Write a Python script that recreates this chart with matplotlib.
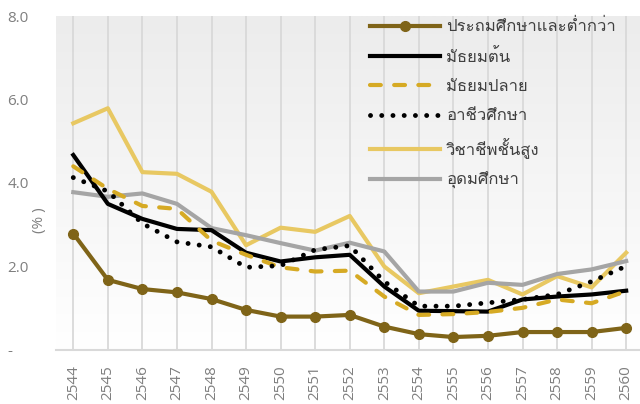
import matplotlib
matplotlib.use('Agg')
import matplotlib.pyplot as plt
import numpy as np
from matplotlib import font_manager
from matplotlib.ft2font import FT2Font
from matplotlib.ticker import FuncFormatter

years = ['2544', '2545', '2546', '2547', '2548', '2549', '2550', '2551', '2552',
         '2553', '2554', '2555', '2556', '2557', '2558', '2559', '2560']

primary = [2.79, 1.68, 1.46, 1.38, 1.22, 0.96, 0.80, 0.80, 0.84,
           0.56, 0.38, 0.31, 0.34, 0.43, 0.43, 0.43, 0.53]
lower_sec = [4.67, 3.50, 3.14, 2.90, 2.87, 2.33, 2.12, 2.22, 2.28,
             1.52, 0.94, 0.93, 0.92, 1.21, 1.28, 1.33, 1.42]
upper_sec = [4.40, 3.86, 3.45, 3.38, 2.62, 2.28, 1.98, 1.88, 1.90,
             1.28, 0.84, 0.86, 0.91, 1.01, 1.21, 1.12, 1.41]
vocational = [4.13, 3.80, 3.03, 2.59, 2.47, 1.98, 2.02, 2.40, 2.50,
              1.64, 1.05, 1.05, 1.13, 1.21, 1.33, 1.64, 2.01]
high_voc = [5.43, 5.79, 4.26, 4.22, 3.79, 2.51, 2.93, 2.83, 3.21,
            2.00, 1.36, 1.52, 1.68, 1.33, 1.77, 1.50, 2.33]
higher_ed = [3.78, 3.67, 3.75, 3.50, 2.92, 2.75, 2.56, 2.38, 2.57,
             2.36, 1.40, 1.40, 1.61, 1.56, 1.82, 1.93, 2.13]

labels = ['ประถมศึกษาและต่ำกว่า', 'มัธยมต้น', 'มัธยมปลาย',
          'อาชีวศึกษา', 'วิชาชีพชั้นสูง', 'อุดมศึกษา']


# find an installed font that has thai glyphs
def thai_family():
    for f in font_manager.fontManager.ttflist:
        try:
            if 0x0E1B in FT2Font(f.fname).get_charmap():
                return f.name
        except Exception:
            pass
    return None


fams = ['Open Sans']
th = thai_family()
if th:
    fams.append(th)
fams.append('DejaVu Sans')
plt.rcParams['font.family'] = fams

fig = plt.figure(figsize=(6.4, 4.04), dpi=100)
ax = fig.add_axes([56 / 640, 54 / 404, 584 / 640, 334 / 404])

x = np.arange(len(years))

# soft vertical gradient behind the lines
grad = np.linspace(0, 1, 256).reshape(-1, 1)
ax.imshow(grad, extent=[-0.5, 16.4, 0, 8], aspect='auto', origin='upper',
          cmap=matplotlib.colors.LinearSegmentedColormap.from_list('bg', ['#ececec', '#ffffff']),
          zorder=0)

for xi in x:
    ax.axvline(xi, color='#d9d9d9', lw=1.3, zorder=1)

ax.plot(x, primary, color='#7f6418', lw=3, marker='o', markersize=7, label=labels[0], zorder=3)
ax.plot(x, lower_sec, color='#000000', lw=3, label=labels[1], zorder=3)
ax.plot(x, upper_sec, color='#d6aa24', lw=3, linestyle=(0, (2.6, 3.2)),
        dash_capstyle='round', label=labels[2], zorder=3)
ax.plot(x, vocational, color='#000000', lw=3.5, linestyle=(0, (0.01, 2.3)),
        dash_capstyle='round', label=labels[3], zorder=3)
ax.plot(x, high_voc, color='#e8c862', lw=3, label=labels[4], zorder=2)
ax.plot(x, higher_ed, color='#a5a5a5', lw=3, label=labels[5], zorder=2)

ax.set_xlim(-0.5, 16.4)
ax.set_ylim(0, 8)
ax.set_xticks(x)
ax.set_xticklabels(years, rotation=90)
ax.set_yticks([0, 2, 4, 6, 8])
ax.yaxis.set_major_formatter(FuncFormatter(lambda v, p: '-' if v == 0 else '%.1f' % v))
ax.tick_params(axis='both', length=0, labelsize=11, colors='#7f7f7f')
ax.tick_params(axis='x', pad=11)
for lab in ax.get_yticklabels():
    lab.set_horizontalalignment('left')
ax.tick_params(axis='y', pad=35)

for s in ['top', 'right', 'left']:
    ax.spines[s].set_visible(False)
ax.spines['bottom'].set_color('#d9d9d9')
ax.spines['bottom'].set_linewidth(1.5)

ax.set_ylabel('(% )', color='#7f7f7f', fontsize=11)
ax.yaxis.set_label_coords(-0.015, 0.39)

leg = ax.legend(loc='upper right', bbox_to_anchor=(0.976, 1.02), frameon=False,
                fontsize=12, handlelength=4.2, labelspacing=0.8, handletextpad=0.35,
                borderaxespad=0.2)
for t in leg.get_texts():
    t.set_color('#404040')

fig.savefig('out.png', dpi=100)
